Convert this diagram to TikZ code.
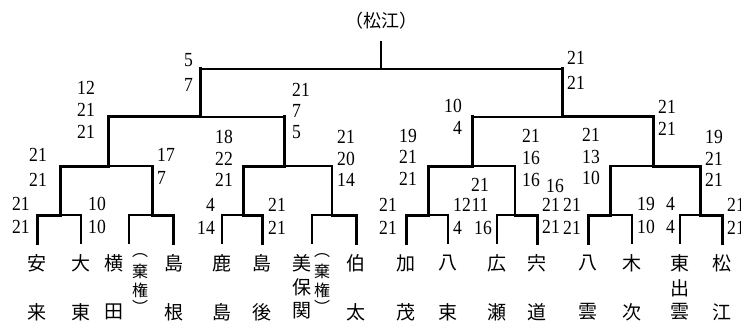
\documentclass[tikz,border=0pt]{standalone}
\usepackage{fontspec}
\usepackage{graphicx}
\setmainfont{Liberation Serif}
\newfontfamily\jp{Noto Sans CJK JP}
\newcommand\nn[1]{\scalebox{0.88}[1]{#1}}
\newcommand\bseg[4]{\draw[#4] (#1 |- #2) -- (#2); \draw[#3] (#1) -- (#1 |- #2);}
\begin{document}
\begin{tikzpicture}[x=1pt,y=-1pt,line cap=rect,
  thinln/.style={line width=1.3pt},
  midln/.style={line width=2pt},
  midbold/.style={line width=2.4pt},
  boldln/.style={line width=3pt},
  num/.style={font=\fontsize{20}{21.5}\selectfont, inner sep=0pt},
  nm/.style={font=\jp\fontsize{19}{19}\selectfont, inner sep=0pt},
  nms/.style={font=\jp\fontsize{16}{16}\selectfont, inner sep=0pt}]
\fill[white] (0,0) rectangle (741,326);
\useasboundingbox (0,0) rectangle (741,326);
% leaf bottoms
\foreach \i/\x in {1/37,2/81,3/129,4/173,5/222,6/262,7/312,8/356,9/406,10/448,11/497,12/537,13/588,14/632,15/680,16/722}
  \coordinate (l\i) at (\x,243);
% round junctions
\foreach \i/\x in {1/60,2/152,3/243,4/332,5/428,6/515,7/610,8/700}
  \coordinate (a\i) at (\x,215);
\foreach \i/\x in {1/108,2/284,3/472,4/653}
  \coordinate (b\i) at (\x,166);
\coordinate (c1) at (200,117);
\coordinate (c2) at (562,117);
\coordinate (d) at (381,69);
\coordinate (top) at (381,42);
% round 1
\bseg{l1}{a1}{boldln}{boldln} \bseg{l2}{a1}{thinln}{thinln}
\bseg{l3}{a2}{thinln}{thinln} \bseg{l4}{a2}{boldln}{boldln}
\bseg{l5}{a3}{thinln}{thinln} \bseg{l6}{a3}{boldln}{boldln}
\bseg{l7}{a4}{thinln}{thinln} \bseg{l8}{a4}{boldln}{boldln}
\bseg{l9}{a5}{boldln}{boldln} \bseg{l10}{a5}{thinln}{thinln}
\bseg{l11}{a6}{thinln}{thinln} \bseg{l12}{a6}{boldln}{boldln}
\bseg{l13}{a7}{boldln}{boldln} \bseg{l14}{a7}{thinln}{thinln}
\bseg{l15}{a8}{thinln}{thinln} \bseg{l16}{a8}{boldln}{boldln}
% round 2
\bseg{a1}{b1}{boldln}{boldln} \bseg{a2}{b1}{boldln}{thinln}
\bseg{a3}{b2}{boldln}{boldln} \bseg{a4}{b2}{midln}{thinln}
\bseg{a5}{b3}{boldln}{boldln} \bseg{a6}{b3}{midln}{thinln}
\bseg{a7}{b4}{boldln}{thinln} \bseg{a8}{b4}{boldln}{boldln}
% round 3
\bseg{b1}{c1}{boldln}{boldln} \bseg{b2}{c1}{boldln}{thinln}
\bseg{b3}{c2}{boldln}{thinln} \bseg{b4}{c2}{boldln}{boldln}
% final
\bseg{c1}{d}{boldln}{thinln} \bseg{c2}{d}{boldln}{midbold}
\draw[midln] (d) -- (top);
\node[font=\jp\fontsize{18}{18}\selectfont, inner sep=0pt] (ttl) at (381,21) {（松江）};
% scores
\node[num,align=right,anchor=east] (s1) at (193,72.5) {\nn{5}\\[3.5pt]\nn{7}};
\node[num,align=right,anchor=east] (s2) at (95,110) {\nn{12}\\[0.5pt]\nn{21}\\[0.5pt]\nn{21}};
\node[num,align=left,anchor=west] (s3) at (292,111) {\nn{21}\\[-0.5pt]\nn{7}\\[-0.5pt]\nn{5}};
\node[num,align=right,anchor=east] (s4) at (47,167.5) {\nn{21}\\[3.5pt]\nn{21}};
\node[num,align=left,anchor=west] (s5) at (157,166.5) {\nn{17}\\[1.5pt]\nn{7}};
\node[num,align=right,anchor=east] (s6) at (30,215.5) {\nn{21}\\[1.5pt]\nn{21}};
\node[num,align=left,anchor=west] (s7) at (88,215.5) {\nn{10}\\[1.5pt]\nn{10}};
\node[num,align=right,anchor=east] (s8) at (233,158.5) {\nn{18}\\\nn{22}\\\nn{21}};
\node[num,align=left,anchor=west] (s9) at (337,158.5) {\nn{21}\\\nn{20}\\\nn{14}};
\node[num,align=right,anchor=east] (s10) at (215,216) {\nn{4}\\[1.5pt]\nn{14}};
\node[num,align=left,anchor=west] (s11) at (268,216) {\nn{21}\\[1.5pt]\nn{21}};
\node[num,align=left,anchor=west] (s12) at (567,70) {\nn{21}\\[3.5pt]\nn{21}};
\node[num,align=right,anchor=east] (s13) at (462,117) {\nn{10}\\[0.5pt]\nn{4}};
\node[num,align=left,anchor=west] (s14) at (658,118) {\nn{21}\\[0.5pt]\nn{21}};
\node[num,align=right,anchor=east] (s15) at (417,157) {\nn{19}\\\nn{21}\\\nn{21}};
\node[num,align=left,anchor=west] (s16) at (522,158) {\nn{21}\\[0.5pt]\nn{16}\\[0.5pt]\nn{16}};
\node[num,align=right,anchor=east] (s17) at (600,156.5) {\nn{21}\\\nn{13}\\\nn{10}};
\node[num,align=left,anchor=west] (s18) at (705,158.5) {\nn{19}\\\nn{21}\\\nn{21}};
\node[num,align=right,anchor=east] (s19) at (397,216) {\nn{21}\\[1.5pt]\nn{21}};
\node[num,align=left,anchor=west] (s20) at (453,216) {\nn{12}\\[1.5pt]\nn{4}};
\node[num] (s21a) at (480,185) {\nn{21}};
\node[num] (s21b) at (480,205) {\nn{11}};
\node[num] (s21c) at (483,228) {\nn{16}};
\node[num] (s22a) at (555,186) {\nn{16}};
\node[num] (s22b) at (551,205) {\nn{21}};
\node[num] (s22c) at (551,227) {\nn{21}};
\node[num,align=right,anchor=east] (s23) at (581,216) {\nn{21}\\[1.5pt]\nn{21}};
\node[num,align=left,anchor=west] (s24) at (637,215) {\nn{19}\\[1.5pt]\nn{10}};
\node[num,align=right,anchor=east] (s25) at (675,215) {\nn{4}\\[1.5pt]\nn{4}};
\node[num,align=left,anchor=west] (s26) at (727,216) {\nn{21}\\[1.5pt]\nn{21}};
% names
\node[nm] (n1a) at (37,263) {安};   \node[nm] (n1b) at (37,312) {来};
\node[nm] (n2a) at (81,263) {大};   \node[nm] (n2b) at (81,312) {東};
\node[nm] (n3a) at (114,263) {横};  \node[nm] (n3b) at (114,312) {田};
\node[nms] (k1a) at (140,256) {︵}; \node[nms] (k1b) at (140,271) {棄};
\node[nms] (k1c) at (140,290) {権}; \node[nms] (k1d) at (140,307) {︶};
\node[nm] (n4a) at (174,263) {島};  \node[nm] (n4b) at (174,312) {根};
\node[nm] (n5a) at (222,263) {鹿};  \node[nm] (n5b) at (222,312) {島};
\node[nm] (n6a) at (262,263) {島};  \node[nm] (n6b) at (262,312) {後};
\node[nm] (n7a) at (302,263) {美};  \node[nm] (n7b) at (302,287) {保};
\node[nm] (n7c) at (302,311) {関};
\node[nms] (k2a) at (322,256) {︵}; \node[nms] (k2b) at (322,271) {棄};
\node[nms] (k2c) at (322,290) {権}; \node[nms] (k2d) at (322,307) {︶};
\node[nm] (n8a) at (356,263) {伯};  \node[nm] (n8b) at (356,312) {太};
\node[nm] (n9a) at (406,263) {加};  \node[nm] (n9b) at (406,312) {茂};
\node[nm] (n10a) at (448,263) {八}; \node[nm] (n10b) at (448,312) {束};
\node[nm] (n11a) at (497,263) {広}; \node[nm] (n11b) at (497,312) {瀬};
\node[nm] (n12a) at (537,263) {宍}; \node[nm] (n12b) at (537,312) {道};
\node[nm] (n13a) at (588,263) {八}; \node[nm] (n13b) at (588,312) {雲};
\node[nm] (n14a) at (632,263) {木}; \node[nm] (n14b) at (632,312) {次};
\node[nm] (n15a) at (680,263) {東}; \node[nm] (n15b) at (680,288) {出};
\node[nm] (n15c) at (680,312) {雲};
\node[nm] (n16a) at (722,263) {松}; \node[nm] (n16b) at (722,312) {江};
\end{tikzpicture}
\end{document}
